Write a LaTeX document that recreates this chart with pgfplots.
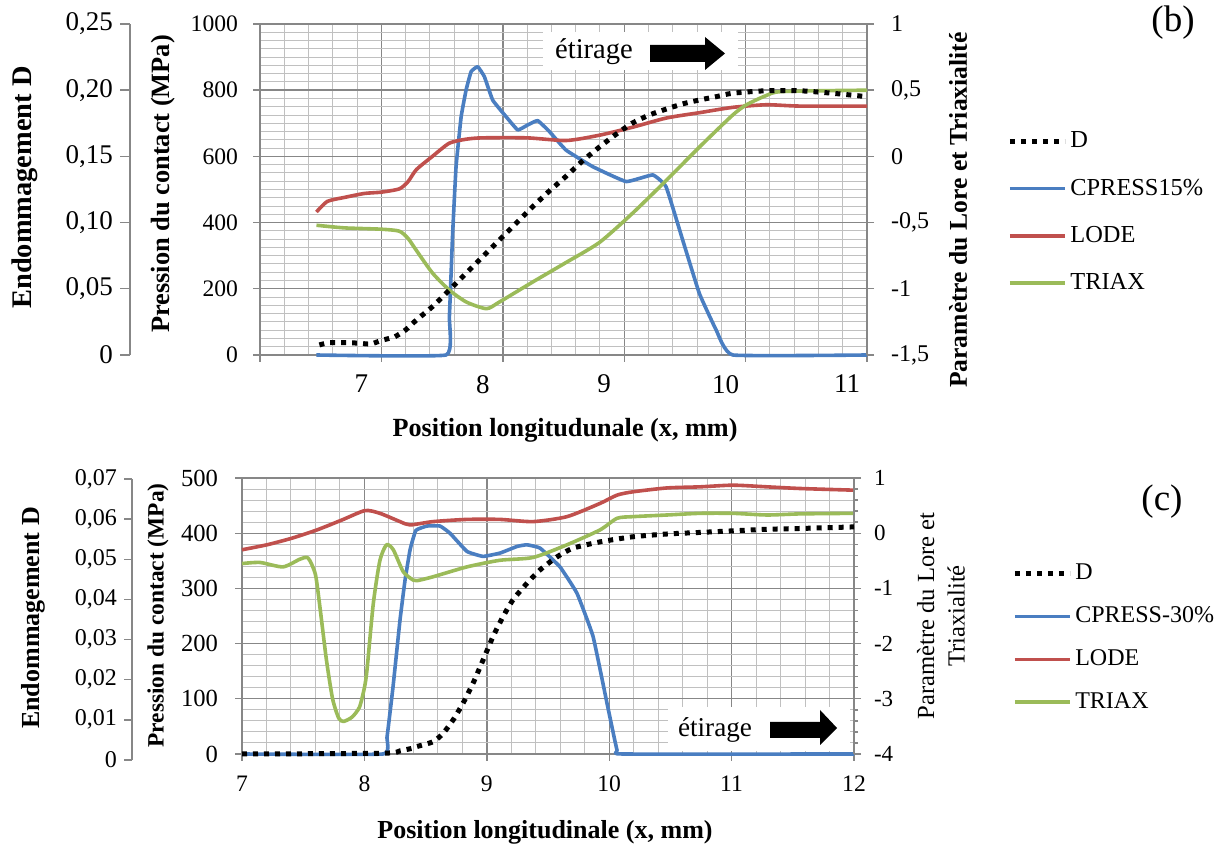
\documentclass[border=0pt]{standalone}
\usepackage{pgfplots}
\pgfplotsset{compat=1.18}
\usepackage{fontspec}
\setmainfont{Liberation Serif}
\definecolor{cblue}{RGB}{74,126,193}
\definecolor{cred}{RGB}{192,80,77}
\definecolor{cgreen}{RGB}{155,187,89}
\definecolor{gmaj}{RGB}{135,135,135}
\definecolor{gmin}{RGB}{192,192,192}
\newcommand\fs[1]{\fontsize{#1}{#1}\selectfont}
\pgfplotsset{
  every axis/.append style={scale only axis, anchor=south west,
    /pgf/number format/assume math mode=true, /pgf/number format/1000 sep={},
    scaled ticks=false},
  dstyle/.style={black, line width=2.5pt, dash pattern=on 2.5pt off 3pt},
  cpstyle/.style={cblue, line width=1.8pt, line join=round, smooth, tension=0.2},
  lodestyle/.style={cred, line width=1.8pt, line join=round, smooth, tension=0.4},
  triaxstyle/.style={cgreen, line width=1.8pt, line join=round, smooth, tension=0.4},
  gstyle/.style={axis line style={gmaj, line width=0.7pt}, tick style={gmaj, line width=0.7pt},
    tick align=outside, major tick length=3.5pt},
  mylegend/.style={legend style={draw=none, fill=none, inner sep=0pt, anchor=north west,
      row sep=11pt, nodes={inner sep=1.5pt}},
    legend cell align=left,
    legend image code/.code={\draw[##1] (0pt,0pt) -- (27.5pt,0pt);}},
}
\begin{document}
\begin{tikzpicture}
\useasboundingbox (0,0) rectangle (607pt,422.5pt);
% ================= PANEL (b) =================
\begin{axis}[at={(130pt,245pt)}, width=303.5pt, height=165.5pt,
  xmin=6, xmax=11, ymin=0, ymax=1000,
  xtick={6,7,8,9,10,11}, xticklabels={,7,8,9,10,11},
  ytick={0,200,400,600,800,1000},
  minor x tick num=4, minor y tick num=7,
  grid=both, major grid style={gmaj, line width=0.7pt}, minor grid style={gmin, line width=0.5pt},
  gstyle, minor tick length=0pt,
  xtick pos=bottom, ytick pos=left,
  xticklabel style={font=\fs{13.5}, xshift=-10pt, yshift=-3pt},
  yticklabel style={font=\fs{11.8}, xshift=-4pt},
  clip=false, mylegend,
  legend style={at={(axis description cs:1.2306,0.684)}, font=\fs{12.2}}]
\addlegendimage{dstyle}
\addlegendentry{D}
\addplot[cpstyle] coordinates {(6.465,0) (7.533,0) (7.560,116) (7.587,368) (7.615,569) (7.657,720) (7.698,801) (7.739,856) (7.793,871) (7.848,841) (7.917,770) (8.027,720) (8.123,680) (8.205,695) (8.287,708) (8.384,675) (8.521,619) (8.741,569) (9.016,524) (9.235,544) (9.345,508) (9.482,347) (9.619,186) (9.757,76) (9.895,0) (11,0)};
\addlegendentry{CPRESS15\%}
\addlegendimage{lodestyle}
\addlegendentry{LODE}
\addlegendimage{triaxstyle}
\addlegendentry{TRIAX}
\end{axis}
\begin{axis}[at={(130pt,245pt)}, width=303.5pt, height=165.5pt,
  xmin=6, xmax=11, ymin=-1.5, ymax=1,
  hide x axis, axis y line*=right, gstyle,
  ytick={-1.5,-1,-0.5,0,0.5,1}, yticklabels={{-1,5},-1,{-0,5},0,{0,5},1},
  yticklabel style={font=\fs{12}, xshift=5pt}, clip=false]
\addplot[lodestyle] coordinates {(6.465,-0.42) (6.555,-0.34) (6.695,-0.31) (6.860,-0.28) (7.0,-0.27) (7.148,-0.245) (7.22,-0.19) (7.288,-0.10) (7.420,0.0) (7.560,0.10) (7.700,0.13) (7.832,0.14) (8.2,0.14) (8.524,0.12) (8.796,0.16) (9.068,0.22) (9.348,0.29) (9.619,0.33) (9.891,0.37) (10.171,0.39) (10.443,0.38) (11.0,0.38)};
\addplot[triaxstyle] coordinates {(6.465,-0.52) (6.695,-0.54) (7.0,-0.55) (7.148,-0.565) (7.22,-0.62) (7.288,-0.71) (7.420,-0.88) (7.560,-1.01) (7.700,-1.10) (7.865,-1.15) (7.972,-1.10) (8.244,-0.95) (8.524,-0.80) (8.796,-0.65) (9.068,-0.43) (9.348,-0.18) (9.619,0.07) (9.891,0.31) (10.007,0.39) (10.171,0.46) (10.303,0.49) (11.0,0.50)};
\end{axis}
\begin{axis}[at={(130pt,245pt)}, width=303.5pt, height=165.5pt,
  xmin=6, xmax=11, ymin=0, ymax=0.25, hide axis, clip=false]
\addplot[dstyle, smooth, tension=0.4] coordinates {(6.489,0.0076) (6.57,0.0093) (6.69,0.0093) (6.80,0.009) (6.91,0.0083) (7.0,0.011) (7.11,0.0138) (7.2,0.019) (7.288,0.0264) (7.420,0.0365) (7.560,0.0491) (7.700,0.0619) (7.832,0.0740) (7.972,0.0869) (8.112,0.0997) (8.244,0.1118) (8.384,0.1239) (8.524,0.1352) (8.656,0.1465) (8.796,0.1571) (8.936,0.1669) (9.068,0.1752) (9.208,0.1813) (9.348,0.1858) (9.479,0.1896) (9.619,0.1926) (9.759,0.1951) (9.891,0.1977) (10.171,0.1996) (10.443,0.1996) (10.715,0.1977) (11.0,0.1951)};
\end{axis}
\begin{axis}[at={(65pt,245pt)}, width=1pt, height=165.5pt,
  xmin=0, xmax=1, ymin=0, ymax=0.25, hide x axis, axis y line*=left, gstyle, major tick length=5pt,
  ytick={0,0.05,0.1,0.15,0.2,0.25}, yticklabels={0,{0,05},{0,10},{0,15},{0,20},{0,25}},
  yticklabel style={font=\fs{13.5}}]
\end{axis}
\node[rotate=90, font=\fs{14.2}\bfseries] at (12.5pt,328.75pt) {Endommagement D};
\node[rotate=90, font=\fs{13.2}\bfseries] at (81.5pt,330.5pt) {Pression du contact (MPa)};
\node[rotate=90, anchor=east, font=\fs{12.8}\bfseries, inner sep=0pt] at (479pt,406.5pt) {Paramètre du Lore et Triaxialité};
\node[font=\fs{18.5}] at (586.5pt,411pt) {(b)};
\node[font=\fs{13.1}\bfseries] at (282.5pt,207.5pt) {Position longitudunale (x, mm)};
\fill[white] (271.5pt,406.5pt) rectangle (369pt,387.5pt);
\node[font=\fs{14.3}] at (297pt,396.5pt) {étirage};
\fill[black] (325pt,400pt) -- (352.5pt,400pt) -- (352.5pt,404pt) -- (362.5pt,395.75pt) -- (352.5pt,387.5pt) -- (352.5pt,391.5pt) -- (325pt,391.5pt) -- cycle;
% ================= PANEL (c) =================
\begin{axis}[at={(121pt,45.5pt)}, width=306pt, height=138pt,
  xmin=7, xmax=12, ymin=0, ymax=500,
  xtick={7,8,9,10,11,12}, ytick={0,100,200,300,400,500},
  minor x tick num=4, minor y tick num=4,
  grid=both, major grid style={gmaj, line width=0.7pt}, minor grid style={gmin, line width=0.5pt},
  gstyle, minor tick length=0pt,
  xtick pos=bottom, ytick pos=left,
  xticklabel style={font=\fs{11.8}, yshift=-4pt},
  yticklabel style={font=\fs{12.3}, xshift=-5pt},
  clip=false, mylegend,
  legend style={at={(axis description cs:1.258,0.70)}, font=\fs{12}, row sep=9pt}]
\addlegendimage{dstyle}
\addlegendentry{D}
\addplot[cpstyle] coordinates {(7,0) (8.152,0) (8.185,31) (8.234,122) (8.291,243) (8.332,315) (8.373,370) (8.42,405) (8.511,413) (8.618,413) (8.699,400) (8.838,367) (8.969,358) (9.108,364) (9.247,376) (9.328,379) (9.435,373) (9.598,339) (9.737,291) (9.868,213) (9.982,92) (10.064,7) (10.113,0) (12,0)};
\addlegendentry{CPRESS-30\%}
\addlegendimage{lodestyle}
\addlegendentry{LODE}
\addlegendimage{triaxstyle}
\addlegendentry{TRIAX}
\end{axis}
\begin{axis}[at={(121pt,45.5pt)}, width=306pt, height=138pt,
  xmin=7, xmax=12, ymin=-4, ymax=1,
  hide x axis, axis y line*=right, gstyle, minor y tick num=4, minor tick length=2pt,
  ytick={-4,-3,-2,-1,0,1},
  yticklabel style={font=\fs{11.5}, xshift=3pt}, clip=false]
\addplot[lodestyle] coordinates {(7.0,-0.30) (7.204,-0.21) (7.408,-0.09) (7.613,0.06) (7.817,0.24) (8.005,0.41) (8.127,0.36) (8.291,0.21) (8.373,0.15) (8.560,0.21) (8.838,0.25) (9.108,0.25) (9.377,0.21) (9.655,0.30) (9.925,0.54) (10.064,0.69) (10.194,0.75) (10.472,0.82) (10.742,0.84) (11.011,0.87) (11.289,0.84) (11.559,0.81) (11.992,0.78)};
\addplot[triaxstyle] coordinates {(7.0,-0.55) (7.147,-0.53) (7.335,-0.61) (7.474,-0.47) (7.54,-0.45) (7.60,-0.75) (7.64,-1.4) (7.69,-2.3) (7.74,-3.0) (7.79,-3.35) (7.83,-3.41) (7.90,-3.33) (7.96,-3.15) (8.0,-2.8) (8.021,-2.48) (8.073,-1.27) (8.127,-0.49) (8.181,-0.21) (8.236,-0.30) (8.318,-0.70) (8.399,-0.85) (8.430,-0.86) (8.560,-0.79) (8.838,-0.61) (9.108,-0.49) (9.377,-0.44) (9.655,-0.21) (9.925,0.06) (10.064,0.27) (10.194,0.30) (10.472,0.33) (10.742,0.36) (11.011,0.36) (11.289,0.33) (11.559,0.35) (11.992,0.36)};
\end{axis}
\begin{axis}[at={(121pt,45.5pt)}, width=306pt, height=138pt,
  xmin=7, xmax=12, ymin=0, ymax=0.07, hide axis, clip=false]
\addplot[dstyle, smooth, tension=0.4] coordinates {(7.0,0) (8.152,0.0002) (8.291,0.0008) (8.397,0.0015) (8.430,0.0019) (8.560,0.0031) (8.642,0.0052) (8.724,0.0086) (8.806,0.0129) (8.887,0.0179) (8.969,0.0238) (9.051,0.0298) (9.132,0.0348) (9.214,0.0391) (9.328,0.0433) (9.435,0.0467) (9.574,0.0500) (9.704,0.0522) (9.925,0.0538) (10.194,0.0551) (10.472,0.0558) (10.742,0.0562) (11.011,0.0566) (11.289,0.0570) (11.559,0.0572) (12.0,0.0576)};
\end{axis}
\begin{axis}[at={(66pt,42.5pt)}, width=1pt, height=140.5pt,
  xmin=0, xmax=1, ymin=0, ymax=0.07, hide x axis, axis y line*=left, gstyle, major tick length=4pt,
  ytick={0,0.01,0.02,0.03,0.04,0.05,0.06,0.07},
  yticklabels={0,{0,01},{0,02},{0,03},{0,04},{0,05},{0,06},{0,07}},
  yticklabel style={font=\fs{12}}]
\end{axis}
\node[rotate=90, font=\fs{13}\bfseries] at (16.5pt,113.5pt) {Endommagement D};
\node[rotate=90, font=\fs{11.7}\bfseries] at (79pt,114.75pt) {Pression du contact (MPa)};
\node[rotate=90, align=center, font=\fs{12.3}] at (470.5pt,114.5pt) {Paramètre du Lore et\\[3pt]Triaxialité};
\node[font=\fs{18.5}] at (581pt,171.5pt) {(c)};
\node[font=\fs{13}\bfseries] at (272.5pt,6.5pt) {Position longitudinale (x, mm)};
\fill[white] (334pt,69pt) rectangle (425pt,47pt);
\node[font=\fs{13.6}] at (357.5pt,57.5pt) {étirage};
\fill[black] (385pt,61.5pt) -- (410pt,61.5pt) -- (410pt,67.5pt) -- (418.5pt,58.5pt) -- (410pt,50pt) -- (410pt,53.5pt) -- (385pt,53.5pt) -- cycle;
\end{tikzpicture}
\end{document}
